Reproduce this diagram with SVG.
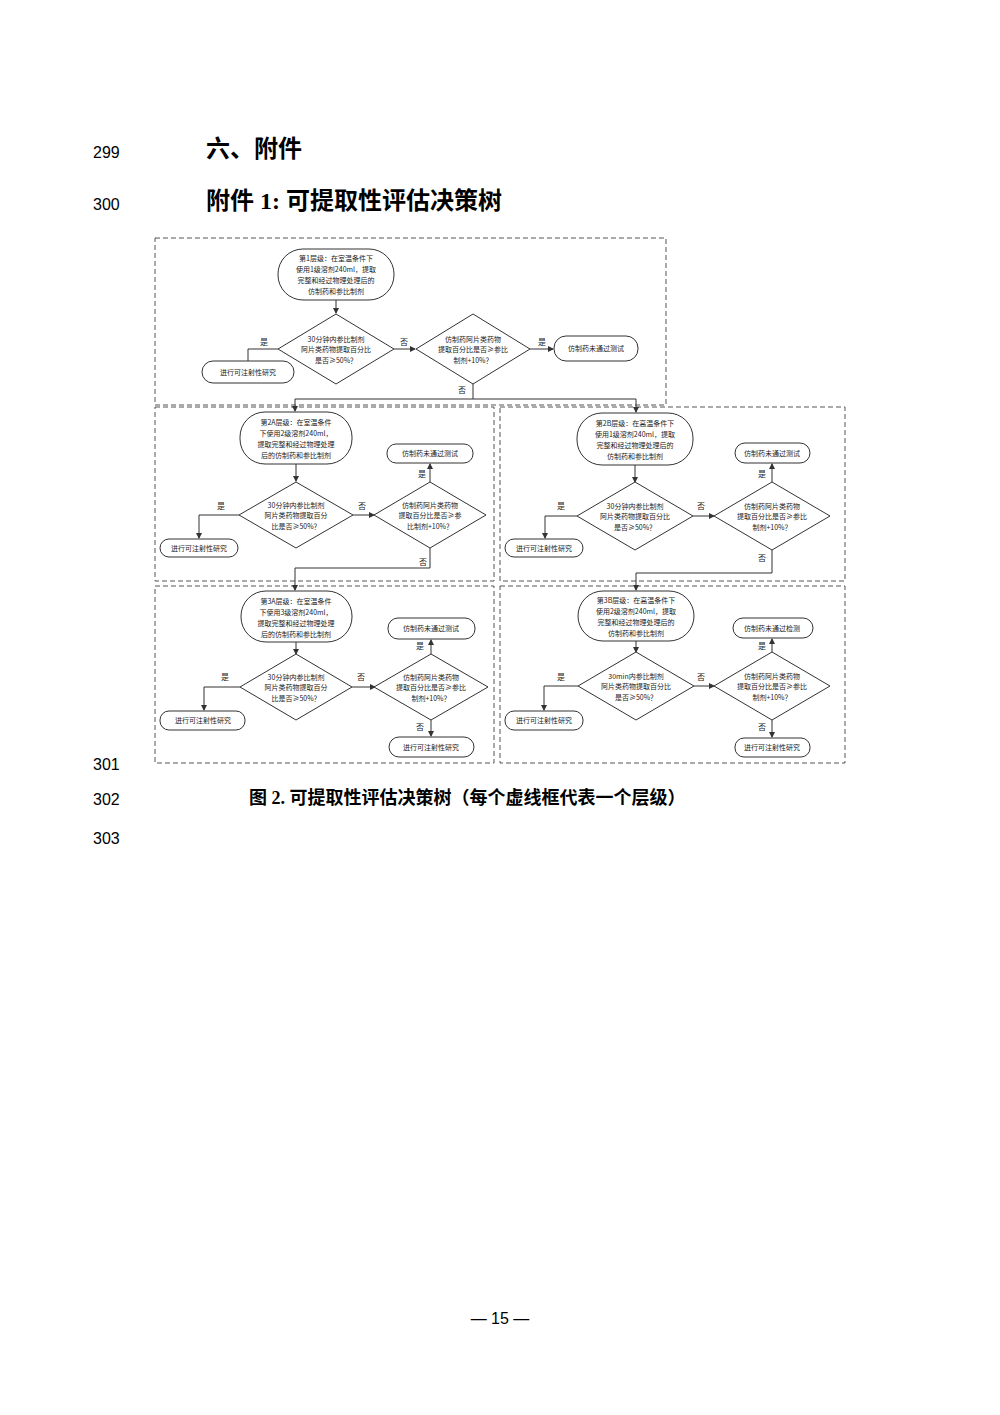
<svg xmlns="http://www.w3.org/2000/svg" width="1000" height="1415" viewBox="0 0 1000 1415">
<style>
.ln{font-family:"Liberation Sans",Arial,sans-serif;font-size:16px;fill:#000}
.h{font-family:"Liberation Serif","Noto Sans CJK SC",serif;font-weight:bold;fill:#000}
.frame{fill:none;stroke:#555;stroke-width:1;stroke-dasharray:5,3}
.n{fill:#fff;stroke:#333;stroke-width:1}
.t{font-family:"Noto Sans CJK SC","Liberation Sans",sans-serif;font-size:7px;fill:#222;text-anchor:middle}
.l{font-family:"Noto Sans CJK SC",sans-serif;font-size:8px;fill:#222;text-anchor:middle}
.c{fill:none;stroke:#333;stroke-width:1;marker-end:url(#a)}
.c0{fill:none;stroke:#333;stroke-width:1}
</style>
<defs><marker id="a" markerWidth="6" markerHeight="6" refX="5" refY="3" orient="auto" markerUnits="userSpaceOnUse"><path d="M0,0L6,3L0,6z" fill="#333"/></marker></defs>
<rect width="1000" height="1415" fill="#fff"/>
<text class="ln" x="93" y="158">299</text>
<text class="h" x="206" y="157" font-size="24">六、附件</text>
<text class="ln" x="93" y="210">300</text>
<text class="h" x="206" y="209" font-size="24">附件 1:  可提取性评估决策树</text>
<text class="ln" x="93" y="770">301</text>
<text class="ln" x="93" y="805">302</text>
<text class="h" x="249" y="804" font-size="18">图 2.   可提取性评估决策树（每个虚线框代表一个层级）</text>
<text class="ln" x="93" y="844">303</text>
<text class="ln" x="500" y="1324" text-anchor="middle" font-family="Liberation Serif,serif" font-size="20">— 15 —</text>

<g id="frames">
<rect class="frame" x="155" y="238" width="511" height="167"/>
<rect class="frame" x="155" y="407" width="339" height="174"/>
<rect class="frame" x="500" y="407" width="345" height="174"/>
<rect class="frame" x="155" y="586" width="339" height="177"/>
<rect class="frame" x="500" y="586" width="345" height="177"/>
</g>

<g id="connectors">
<path class="c" d="M336,300V313"/>
<path class="c" d="M278,349H248V368"/>
<path class="c" d="M394,349H415"/>
<path class="c" d="M530,349H553"/>
<path class="c0" d="M473,384V399H295"/>
<path class="c" d="M295,399V411"/>
<path class="c" d="M473,399H636V412"/>
<path class="c" d="M296,464V481"/>
<path class="c" d="M239,515H199V538"/>
<path class="c" d="M353,515H374"/>
<path class="c" d="M430,482V464"/>
<path class="c" d="M430,548V568H295V590"/>
<path class="c" d="M635,465V482"/>
<path class="c" d="M577,516H545V538"/>
<path class="c" d="M693,516H714"/>
<path class="c" d="M772,482V464"/>
<path class="c" d="M772,550V573H636V590"/>
<path class="c" d="M296,642V654"/>
<path class="c" d="M240,687H204V710"/>
<path class="c" d="M352,687H375"/>
<path class="c" d="M431,654V640"/>
<path class="c" d="M431,720V736"/>
<path class="c" d="M636,641V652"/>
<path class="c" d="M578,686H544V710"/>
<path class="c" d="M694,686H714"/>
<path class="c" d="M772,652V639"/>
<path class="c" d="M772,720V737"/>
</g>
<g id="labels">
<text class="l" x="264" y="345">是</text><text class="l" x="404" y="345">否</text><text class="l" x="542" y="345">是</text><text class="l" x="462" y="393">否</text>
<text class="l" x="221" y="509">是</text><text class="l" x="362" y="509">否</text><text class="l" x="422" y="477">是</text><text class="l" x="423" y="565">否</text>
<text class="l" x="561" y="509">是</text><text class="l" x="701" y="509">否</text><text class="l" x="762" y="477">是</text><text class="l" x="762" y="561">否</text>
<text class="l" x="225" y="680">是</text><text class="l" x="361" y="680">否</text><text class="l" x="420" y="649">是</text><text class="l" x="420" y="730">否</text>
<text class="l" x="561" y="680">是</text><text class="l" x="701" y="680">否</text><text class="l" x="762" y="649">是</text><text class="l" x="762" y="730">否</text>
</g>

<g id="L1-start"><rect class="n" x="278" y="249" width="116" height="51" rx="25"/>
<text class="t" x="336" y="261">第1层级：在室温条件下</text><text class="t" x="336" y="272">使用1级溶剂240ml，提取</text><text class="t" x="336" y="283">完整和经过物理处理后的</text><text class="t" x="336" y="294">仿制药和参比制剂</text></g>
<g id="L1-d1"><path class="n" d="M336,314L394,349L336,384L278,349z"/>
<text class="t" x="336" y="342">30分钟内参比制剂</text><text class="t" x="336" y="352">阿片类药物提取百分比</text><text class="t" x="336" y="363">是否≥50%？</text></g>
<g id="L1-yes"><rect class="n" x="202" y="361" width="92" height="22" rx="11"/><text class="t" x="248" y="375">进行可注射性研究</text></g>
<g id="L1-d2"><path class="n" d="M473,314L530,349L473,384L416,349z"/>
<text class="t" x="473" y="342">仿制药阿片类药物</text><text class="t" x="473" y="352">提取百分比是否≥参比</text><text class="t" x="473" y="363">制剂+10%？</text></g>
<g id="L1-fail"><rect class="n" x="554" y="336" width="84" height="25" rx="12"/><text class="t" x="596" y="351">仿制药未通过测试</text></g>

<g id="L2A-start"><rect class="n" x="240" y="412" width="112" height="52" rx="25"/>
<text class="t" x="296" y="425">第2A层级：在室温条件</text><text class="t" x="296" y="436">下使用2级溶剂240ml，</text><text class="t" x="296" y="447">提取完整和经过物理处理</text><text class="t" x="296" y="458">后的仿制药和参比制剂</text></g>
<g id="L2A-d1"><path class="n" d="M296,482L353,515L296,548L239,515z"/>
<text class="t" x="296" y="508">30分钟内参比制剂</text><text class="t" x="296" y="518">阿片类药物提取百分</text><text class="t" x="296" y="529">比是否≥50%？</text></g>
<g id="L2A-yes"><rect class="n" x="160" y="539" width="78" height="18" rx="9"/><text class="t" x="199" y="551">进行可注射性研究</text></g>
<g id="L2A-d2"><path class="n" d="M430,482L486,515L430,548L374,515z"/>
<text class="t" x="430" y="508">仿制药阿片类药物</text><text class="t" x="430" y="518">提取百分比是否≥参</text><text class="t" x="430" y="529">比制剂+10%？</text></g>
<g id="L2A-fail"><rect class="n" x="387" y="444" width="86" height="19" rx="9"/><text class="t" x="430" y="456">仿制药未通过测试</text></g>

<g id="L2B-start"><rect class="n" x="577" y="413" width="116" height="52" rx="25"/>
<text class="t" x="635" y="426">第2B层级：在高温条件下</text><text class="t" x="635" y="437">使用1级溶剂240ml，提取</text><text class="t" x="635" y="448">完整和经过物理处理后的</text><text class="t" x="635" y="459">仿制药和参比制剂</text></g>
<g id="L2B-d1"><path class="n" d="M635,482L693,516L635,550L577,516z"/>
<text class="t" x="635" y="509">30分钟内参比制剂</text><text class="t" x="635" y="519">阿片类药物提取百分比</text><text class="t" x="635" y="530">是否≥50%？</text></g>
<g id="L2B-yes"><rect class="n" x="505" y="539" width="78" height="18" rx="9"/><text class="t" x="544" y="551">进行可注射性研究</text></g>
<g id="L2B-d2"><path class="n" d="M772,482L830,516L772,550L714,516z"/>
<text class="t" x="772" y="509">仿制药阿片类药物</text><text class="t" x="772" y="519">提取百分比是否≥参比</text><text class="t" x="772" y="530">制剂+10%？</text></g>
<g id="L2B-fail"><rect class="n" x="735" y="443" width="75" height="20" rx="10"/><text class="t" x="772" y="456">仿制药未通过测试</text></g>

<g id="L3A-start"><rect class="n" x="241" y="591" width="111" height="51" rx="25"/>
<text class="t" x="296" y="604">第3A层级：在室温条件</text><text class="t" x="296" y="615">下使用3级溶剂240ml，</text><text class="t" x="296" y="626">提取完整和经过物理处理</text><text class="t" x="296" y="637">后的仿制药和参比制剂</text></g>
<g id="L3A-d1"><path class="n" d="M296,654L352,687L296,720L240,687z"/>
<text class="t" x="296" y="680">30分钟内参比制剂</text><text class="t" x="296" y="690">阿片类药物提取百分</text><text class="t" x="296" y="701">比是否≥50%？</text></g>
<g id="L3A-yes"><rect class="n" x="160" y="711" width="85" height="19" rx="9"/><text class="t" x="203" y="723">进行可注射性研究</text></g>
<g id="L3A-d2"><path class="n" d="M431,654L488,687L431,720L374,687z"/>
<text class="t" x="431" y="680">仿制药阿片类药物</text><text class="t" x="431" y="690">提取百分比是否≥参比</text><text class="t" x="431" y="701">制剂+10%？</text></g>
<g id="L3A-fail"><rect class="n" x="388" y="618" width="87" height="21" rx="10"/><text class="t" x="431" y="631">仿制药未通过测试</text></g>
<g id="L3A-no"><rect class="n" x="389" y="737" width="85" height="20" rx="10"/><text class="t" x="431" y="750">进行可注射性研究</text></g>

<g id="L3B-start"><rect class="n" x="578" y="591" width="116" height="50" rx="25"/>
<text class="t" x="636" y="603">第3B层级：在高温条件下</text><text class="t" x="636" y="614">使用2级溶剂240ml，提取</text><text class="t" x="636" y="625">完整和经过物理处理后的</text><text class="t" x="636" y="636">仿制药和参比制剂</text></g>
<g id="L3B-d1"><path class="n" d="M636,652L694,686L636,720L578,686z"/>
<text class="t" x="636" y="679">30min内参比制剂</text><text class="t" x="636" y="689">阿片类药物提取百分比</text><text class="t" x="636" y="700">是否≥50%？</text></g>
<g id="L3B-yes"><rect class="n" x="505" y="711" width="78" height="19" rx="9"/><text class="t" x="544" y="723">进行可注射性研究</text></g>
<g id="L3B-d2"><path class="n" d="M772,652L830,686L772,720L714,686z"/>
<text class="t" x="772" y="679">仿制药阿片类药物</text><text class="t" x="772" y="689">提取百分比是否≥参比</text><text class="t" x="772" y="700">制剂+10%？</text></g>
<g id="L3B-fail"><rect class="n" x="733" y="618" width="80" height="20" rx="10"/><text class="t" x="772" y="631">仿制药未通过检测</text></g>
<g id="L3B-no"><rect class="n" x="735" y="738" width="75" height="19" rx="9"/><text class="t" x="772" y="750">进行可注射性研究</text></g>
</svg>
